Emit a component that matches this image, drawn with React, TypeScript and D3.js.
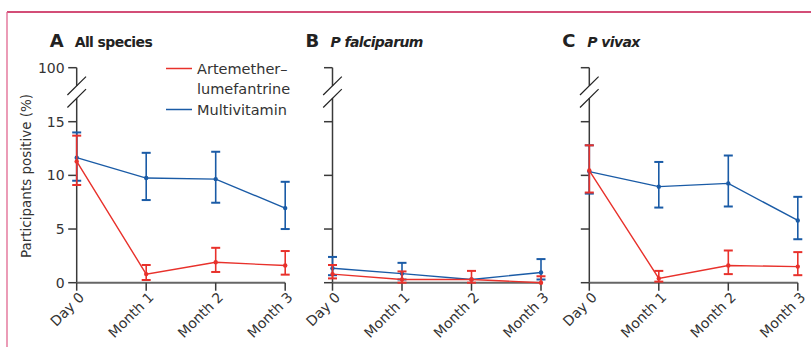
import React from "react";
import * as d3 from "d3";

const categories = ["Day 0", "Month 1", "Month 2", "Month 3"];
const yTicks = [0, 5, 10, 15, 100];

// [value, lower, upper] per timepoint
const allAL = [[11.3, 9.1, 13.7], [0.8, 0.25, 1.65], [1.9, 1.0, 3.25], [1.6, 0.75, 2.95]];
const allMV = [[11.65, 9.5, 14.0], [9.75, 7.7, 12.1], [9.65, 7.45, 12.2], [6.95, 5.0, 9.4]];
const pfAL = [[0.8, 0.4, 1.65], [0.3, 0.0, 1.05], [0.3, 0.0, 1.1], [0.0, 0.0, 0.6]];
const pfMV = [[1.35, 0.7, 2.4], [0.85, 0.3, 1.85], [0.3, 0.3, 0.3], [0.95, 0.3, 2.2]];
const pvAL = [[10.45, 8.4, 12.8], [0.4, 0.1, 1.1], [1.6, 0.8, 3.0], [1.5, 0.7, 2.85]];
const pvMV = [[10.35, 8.3, 12.8], [8.95, 7.0, 11.25], [9.25, 7.1, 11.85], [5.8, 4.05, 8.0]];

const panels = [
  { letter: "A", title: "All species", italic: false, x0: 76.7, al: allAL, mv: allMV, labels: true },
  { letter: "B", title: "P falciparum", italic: true, x0: 332.5, al: pfAL, mv: pfMV, labels: false },
  { letter: "C", title: "P vivax", italic: true, x0: 589.3, al: pvAL, mv: pvMV, labels: false },
];

const RED = "#e8312b";
const BLUE = "#1a5ba6";
const AXIS = "#3a3a3a";
const FONT = "DejaVu Sans, sans-serif";

const y = d3.scaleLinear().domain([0, 15, 100]).range([282.7, 121.7, 67.7]);

const Series = ({ x, data, color }) => {
  const line = d3.line().x((d, i) => x(categories[i])).y(d => y(d[0]));
  return (
    <g>
      <path d={line(data)} fill="none" stroke={color} strokeWidth={1.4} />
      {data.map((d, i) => {
        const cx = x(categories[i]);
        return (
          <g key={i}>
            <line x1={cx} x2={cx} y1={y(d[1])} y2={y(d[2])} stroke={color} strokeWidth={1.6} />
            {d[2] > d[0] && <line x1={cx - 4.5} x2={cx + 4.5} y1={y(d[2])} y2={y(d[2])} stroke={color} strokeWidth={2} />}
            {d[1] < d[0] && <line x1={cx - 4.5} x2={cx + 4.5} y1={y(d[1])} y2={y(d[1])} stroke={color} strokeWidth={2} />}
            <circle cx={cx} cy={y(d[0])} r={2.2} fill={color} />
          </g>
        );
      })}
    </g>
  );
};

const Panel = ({ p }) => {
  const x = d3.scalePoint().domain(categories).range([p.x0, p.x0 + 208.5]);
  const ax = p.x0;
  const breakTop = 85.8;
  const breakBot = 98.3;
  return (
    <g>
      <text x={ax - 27} y={47} fontFamily={FONT} fontWeight="bold" fontSize={18} fill="#222">{p.letter}</text>
      <text x={ax - 2} y={47} fontFamily={FONT} fontWeight="bold" fontStyle={p.italic ? "italic" : "normal"} fontSize={14} letterSpacing={-0.6} fill="#222">{p.title}</text>
      {/* y axis with break */}
      <line x1={ax} x2={ax} y1={y(100)} y2={breakTop} stroke={AXIS} strokeWidth={1.5} />
      <line x1={ax} x2={ax} y1={breakBot} y2={y(0)} stroke={AXIS} strokeWidth={1.5} />
      {[breakTop, breakBot].map((by, i) => (
        <line key={i} x1={ax - 9.3} y1={by + 9.2} x2={ax + 9.3} y2={by - 9.2} stroke="#222" strokeWidth={1.2} />
      ))}
      {yTicks.map(t => (
        <g key={t}>
          <line x1={ax - 8.5} x2={ax} y1={y(t)} y2={y(t)} stroke={AXIS} strokeWidth={1.5} />
          {p.labels && (
            <text x={ax - 12} y={y(t)} dy="0.36em" textAnchor="end" fontFamily={FONT} fontSize={14} fill="#333">{t}</text>
          )}
        </g>
      ))}
      {/* x axis */}
      <line x1={ax} x2={ax + 208.5} y1={y(0)} y2={y(0)} stroke="#666" strokeWidth={2} />
      {categories.map(c => (
        <g key={c}>
          <line x1={x(c)} x2={x(c)} y1={y(0)} y2={y(0) + 8} stroke={AXIS} strokeWidth={1.5} />
          <text transform={`translate(${x(c) + 5},${y(0) + 12}) rotate(-45)`} textAnchor="end" dy="0.35em" fontFamily={FONT} fontSize={14} fill="#333">{c}</text>
        </g>
      ))}
      <Series x={x} data={p.mv} color={BLUE} />
      <Series x={x} data={p.al} color={RED} />
    </g>
  );
};

export default function App() {
  return (
    <svg width={811} height={347} style={{ position: "absolute", left: 0, top: 0, background: "#fff" }}>
      <line x1={7} x2={811} y1={12} y2={12} stroke="#c4124a" strokeWidth={1.5} />
      <line x1={7} x2={7} y1={12} y2={347} stroke="#e06690" strokeWidth={1.3} />
      <text transform="translate(31,176) rotate(-90)" textAnchor="middle" fontFamily={FONT} fontSize={13.5} fill="#333">Participants positive (%)</text>
      {panels.map(p => <Panel key={p.letter} p={p} />)}
      <g fontFamily={FONT} fontSize={14.5} fill="#333">
        <line x1={166} x2={192} y1={68.5} y2={68.5} stroke={RED} strokeWidth={1.5} />
        <text x={197} y={73.5}>Artemether–</text>
        <text x={197} y={94}>lumefantrine</text>
        <line x1={166} x2={192} y1={109.5} y2={109.5} stroke={BLUE} strokeWidth={1.5} />
        <text x={197} y={114.5}>Multivitamin</text>
      </g>
    </svg>
  );
}
